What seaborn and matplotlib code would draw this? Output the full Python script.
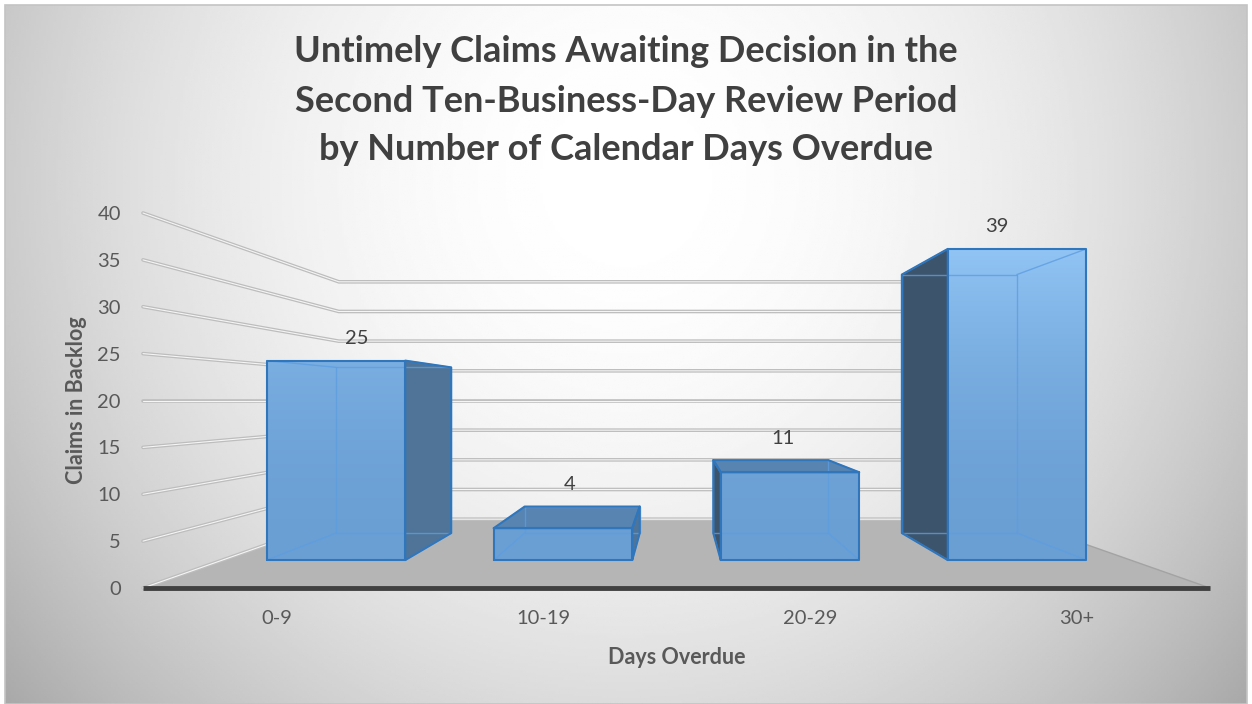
import matplotlib
matplotlib.use('Agg')
import matplotlib.pyplot as plt
import matplotlib.transforms as mtransforms
from matplotlib.colors import LinearSegmentedColormap
from matplotlib.patches import Polygon, Rectangle
import numpy as np
import pandas as pd
import seaborn as sns

# Datos del grafico
categories = ['0-9', '10-19', '20-29', '30+']
claims = [25, 4, 11, 39]
y_ticks = [0, 5, 10, 15, 20, 25, 30, 35, 40]
title_lines = ['Untimely Claims Awaiting Decision in the',
               'Second Ten-Business-Day Review Period',
               'by Number of Calendar Days Overdue']
x_title = 'Days Overdue'
y_title = 'Claims in Backlog'

# profundidades de la perspectiva (1 = borde frontal del piso)
SF, SB, SW = 0.851, 0.707, 0.633

sns.set_theme(style='white')
plt.rcParams['font.family'] = ['Lato', 'DejaVu Sans']

W, H = 1252, 704
fig = plt.figure(figsize=(W / 100, H / 100), dpi=100)
fig.patch.set_facecolor('white')

# fondo con degradado radial
bg = fig.add_axes([5 / W, 0, (W - 10) / W, (H - 5) / H], zorder=0)
xx, yy = np.meshgrid(np.linspace(0, 1, 500), np.linspace(0, 1, 300))
r = np.sqrt(((xx - 0.5) / 0.5) ** 2 + ((yy - 0.25) / 0.9) ** 2)
shade = np.clip(1 - 0.2 * r ** 2, 0, 1)
bg.imshow(shade, cmap='gray', vmin=0, vmax=1, aspect='auto', extent=(0, 1, 0, 1))
bg.add_patch(Rectangle((0, 0), 1, 1, transform=bg.transAxes, fill=False,
                       edgecolor='#c4c4c4', lw=1.2, clip_on=False))
bg.set_axis_off()

# ejes principales = plano frontal del piso
ax = fig.add_axes([143 / W, (H - 588) / H, 1067 / W, 375 / H], zorder=1)
ax.set_facecolor('none')

df = pd.DataFrame({'days': categories, 'claims': claims})
sns.barplot(data=df, x='days', y='claims', ax=ax, width=0.61, color='#6aa0d5',
            edgecolor='none', errorbar=None, zorder=4)
bars = list(ax.patches)

ax.set_xlim(-0.5, 3.5)
ax.set_ylim(0, 40)
ax.set_autoscale_on(False)
sns.despine(ax=ax, left=True, bottom=True)
ax.set_yticks(y_ticks)
ax.tick_params(axis='both', length=0, labelsize=14.5, labelcolor='#595959')
ax.tick_params(axis='y', pad=16)
ax.tick_params(axis='x', pad=16)
ax.set_xlabel(x_title, fontsize=15.5, fontweight='bold', color='#595959')
ax.set_ylabel(y_title, fontsize=15.5, fontweight='bold', color='#595959')
ax.xaxis.set_label_coords(0.5, -0.184)
ax.xaxis.label.set_va('center')
ax.yaxis.set_label_coords(-0.062, 0.501)
ax.yaxis.label.set_va('center')

# punto de fuga en el centro del grafico
vx, vy = ax.transData.transform((1.5, 20))
ident = mtransforms.IdentityTransform()


def depth(s):
    return ax.transData + mtransforms.Affine2D().translate(-vx, -vy).scale(s).translate(vx, vy)


def to_px(x, y, s):
    return depth(s).transform((x, y))


def draw_path(points, **kw):
    pts = np.array(points)
    ax.plot(pts[:, 0], pts[:, 1], transform=ident, clip_on=False, **kw)


# piso
floor = [to_px(-0.5, 0, 1), to_px(3.5, 0, 1), to_px(3.5, 0, SW), to_px(-0.5, 0, SW)]
ax.add_patch(Polygon(floor, closed=True, transform=ident, facecolor='#b5b5b5',
                     edgecolor='none', zorder=1, clip_on=False))
draw_path([to_px(3.5, 0, 1), to_px(3.5, 0, SW)], color='#a3a3a3', lw=1, zorder=1.5)

# lineas de cuadricula: pared izquierda y pared del fondo
for v in y_ticks:
    pts = [to_px(-0.5, v, 1), to_px(-0.5, v, SW), to_px(3.5, v, SW)]
    draw_path(pts, color='#bdbdbd', lw=2.6, zorder=2, solid_joinstyle='miter')
    draw_path(pts, color='#f5f5f5', lw=0.8, zorder=2.1, solid_joinstyle='miter')

# borde frontal del piso
ax.plot([-0.5, 3.5], [0, 0], color='#404040', lw=3.5, zorder=3, clip_on=False,
        solid_capstyle='butt')

# barras en 3D
front_cmap = LinearSegmentedColormap.from_list('front', ['#6a9fd4', '#9bcefd'])
grad = np.linspace(0, 1, 256)[:, None] ** 2.2
edge_col = '#2f76bd'

for bar, value in zip(bars, claims):
    x0 = bar.get_x()
    x1 = x0 + bar.get_width()
    h = bar.get_height()
    bar.set_transform(depth(SF))

    fbl, fbr, ftr, ftl = [to_px(x, y, SF) for x, y in [(x0, 0), (x1, 0), (x1, h), (x0, h)]]
    bbl, bbr, btr, btl = [to_px(x, y, SB) for x, y in [(x0, 0), (x1, 0), (x1, h), (x0, h)]]

    faces = []
    if fbr[0] < vx:
        faces.append(([fbr, ftr, btr, bbr], '#4f7498'))
    if fbl[0] > vx:
        faces.append(([fbl, ftl, btl, bbl], '#3d556c'))
    if ftl[1] < vy:
        faces.append(([ftl, ftr, btr, btl], '#5784b1'))
    for poly, col in faces:
        ax.add_patch(Polygon(poly, closed=True, transform=ident, facecolor=col,
                             edgecolor='none', zorder=3.5, clip_on=False))

    im = ax.imshow(grad, extent=(-0.5, 3.5, 0, 40), origin='lower', cmap=front_cmap,
                   vmin=0, vmax=1, aspect='auto', zorder=4.5)
    im.set_clip_path(bar)

    # aristas ocultas vistas a traves de la cara frontal
    draw_path([bbl, bbr, btr, btl, bbl], color='#5d9de0', lw=1, alpha=0.8, zorder=5)
    for a, b in [(fbl, bbl), (fbr, bbr), (ftl, btl), (ftr, btr)]:
        draw_path([a, b], color='#5d9de0', lw=1, alpha=0.8, zorder=5)

    # aristas visibles
    draw_path([fbl, fbr, ftr, ftl, fbl], color=edge_col, lw=1.5, zorder=6)
    for poly, col in faces:
        draw_path(poly + [poly[0]], color=edge_col, lw=1.5, zorder=6)

    # etiqueta de valor
    lx, _ = to_px(x0 + bar.get_width() / 2, h, 0.8)
    ly = max(ftl[1], btl[1]) + 22
    ax.text(lx, ly, str(value), transform=ident, ha='center', va='center',
            fontsize=14.5, color='#404040', zorder=7, clip_on=False)

ax.set_xlim(-0.5, 3.5)
ax.set_ylim(0, 40)

# titulo
for i, line in enumerate(title_lines):
    fig.text(0.5, 1 - (52 + 49 * i) / H, line, ha='center', va='center',
             fontsize=26, fontweight='bold', color='#404040')

plt.savefig('out.png', dpi=100)
